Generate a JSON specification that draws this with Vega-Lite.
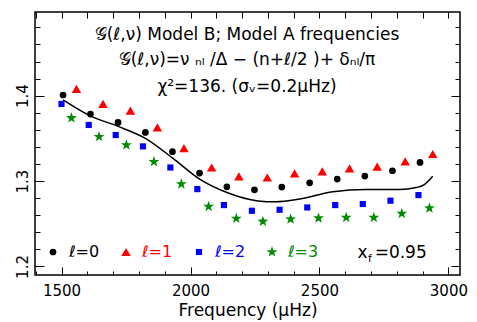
{
  "$schema": "https://vega.github.io/schema/vega-lite/v6.json",
  "width": 425,
  "height": 263,
  "autosize": {"type": "none"},
  "padding": {"left": 35, "top": 12, "right": 17, "bottom": 47},
  "background": "white",
  "config": {
    "view": {"stroke": "black", "strokeWidth": 1.5},
    "font": "DejaVu Sans",
    "axis": {"grid": false, "domain": false, "tickColor": "black", "tickWidth": 1, "labelColor": "black", "titleColor": "black", "labelFont": "DejaVu Sans", "titleFont": "DejaVu Sans", "titleFontWeight": "normal", "labelOverlap": false, "labelFlush": false, "labelBound": false}
  },
  "datasets": {
    "modes": [
      {"l": "0", "freq": 1505.8, "g": 1.4008}, {"l": "0", "freq": 1612, "g": 1.3785}, {"l": "0", "freq": 1719, "g": 1.3687}, {"l": "0", "freq": 1825, "g": 1.357}, {"l": "0", "freq": 1930, "g": 1.3344}, {"l": "0", "freq": 2035, "g": 1.3094}, {"l": "0", "freq": 2141, "g": 1.2933}, {"l": "0", "freq": 2248, "g": 1.2898}, {"l": "0", "freq": 2354, "g": 1.293}, {"l": "0", "freq": 2462, "g": 1.298}, {"l": "0", "freq": 2569, "g": 1.3023}, {"l": "0", "freq": 2676, "g": 1.3059}, {"l": "0", "freq": 2783, "g": 1.3121}, {"l": "0", "freq": 2890, "g": 1.3218},
      {"l": "1", "freq": 1557.7, "g": 1.4079}, {"l": "1", "freq": 1660.7, "g": 1.3903}, {"l": "1", "freq": 1766.9, "g": 1.3824}, {"l": "1", "freq": 1871.5, "g": 1.3628}, {"l": "1", "freq": 1974.6, "g": 1.3387}, {"l": "1", "freq": 2081.9, "g": 1.3159}, {"l": "1", "freq": 2187.7, "g": 1.3054}, {"l": "1", "freq": 2297.7, "g": 1.3042}, {"l": "1", "freq": 2403.5, "g": 1.3089}, {"l": "1", "freq": 2510.8, "g": 1.3113}, {"l": "1", "freq": 2616.6, "g": 1.3148}, {"l": "1", "freq": 2723.9, "g": 1.3168}, {"l": "1", "freq": 2832.4, "g": 1.323}, {"l": "1", "freq": 2939.3, "g": 1.3317},
      {"l": "2", "freq": 1499.6, "g": 1.3903}, {"l": "2", "freq": 1605.3, "g": 1.3657}, {"l": "2", "freq": 1710, "g": 1.3539}, {"l": "2", "freq": 1815.7, "g": 1.3406}, {"l": "2", "freq": 1921.9, "g": 1.3159}, {"l": "2", "freq": 2026.5, "g": 1.2906}, {"l": "2", "freq": 2129.6, "g": 1.2719}, {"l": "2", "freq": 2238, "g": 1.2652}, {"l": "2", "freq": 2345.4, "g": 1.2664}, {"l": "2", "freq": 2452.7, "g": 1.2691}, {"l": "2", "freq": 2561.2, "g": 1.2719}, {"l": "2", "freq": 2668.1, "g": 1.2731}, {"l": "2", "freq": 2775.4, "g": 1.277}, {"l": "2", "freq": 2883.9, "g": 1.2836},
      {"l": "3", "freq": 1538.3, "g": 1.3739}, {"l": "3", "freq": 1645.3, "g": 1.3519}, {"l": "3", "freq": 1751.4, "g": 1.3422}, {"l": "3", "freq": 1858.3, "g": 1.3226}, {"l": "3", "freq": 1964.5, "g": 1.2965}, {"l": "3", "freq": 2070.3, "g": 1.2702}, {"l": "3", "freq": 2177.6, "g": 1.2562}, {"l": "3", "freq": 2280.7, "g": 1.2527}, {"l": "3", "freq": 2388, "g": 1.2554}, {"l": "3", "freq": 2496.5, "g": 1.2566}, {"l": "3", "freq": 2603.8, "g": 1.2573}, {"l": "3", "freq": 2710.7, "g": 1.2573}, {"l": "3", "freq": 2819.2, "g": 1.262}, {"l": "3", "freq": 2926.5, "g": 1.2683}
    ],
    "curve": [
      {"freq": 1505.8, "g": 1.395}, {"freq": 1609.2, "g": 1.3766}, {"freq": 1718.9, "g": 1.3641}, {"freq": 1825, "g": 1.35}, {"freq": 1932, "g": 1.3266}, {"freq": 2035.4, "g": 1.3023}, {"freq": 2141.2, "g": 1.2866}, {"freq": 2261.3, "g": 1.2768}, {"freq": 2330, "g": 1.2757}, {"freq": 2422.9, "g": 1.2789}, {"freq": 2551.9, "g": 1.2875}, {"freq": 2681.3, "g": 1.2902}, {"freq": 2810.3, "g": 1.2902}, {"freq": 2875, "g": 1.2924}, {"freq": 2905, "g": 1.2955}, {"freq": 2939.3, "g": 1.3056}
    ]
  },
  "resolve": {"axis": {"x": "independent", "y": "independent"}},
  "layer": [
    {
      "data": {"name": "modes"},
      "mark": {"type": "point", "filled": true, "opacity": 1, "strokeWidth": 0},
      "encoding": {
        "x": {"field": "freq", "type": "quantitative", "scale": {"domain": [1397, 3045], "nice": false, "zero": false},
          "axis": {"orient": "bottom", "title": "Frequency (μHz)", "format": "d", "values": [1500, 2000, 2500, 3000], "tickSize": -8,
            "labelFontSize": 15, "titleFontSize": 17, "labelPadding": 16, "titlePadding": 4}},
        "y": {"field": "g", "type": "quantitative", "scale": {"domain": [1.19, 1.498], "nice": false, "zero": false},
          "axis": {"orient": "left", "title": null, "values": [1.2, 1.3, 1.4], "format": ".1f", "tickSize": -9,
            "labelAngle": -90, "labelAlign": "center", "labelBaseline": "bottom", "labelFontSize": 15, "labelPadding": 14}},
        "color": {"field": "l", "type": "nominal", "scale": {"domain": ["0","1","2","3"], "range": ["black", "#ff0000", "#0000ff", "#008a00"]},
          "legend": {"orient": "none", "legendX": 10, "legendY": 232, "direction": "horizontal", "columns": 4, "title": null, "padding": 0,
            "labelExpr": "'ℓ=' + datum.label", "labelFontSize": 16, "labelFont": "DejaVu Sans", "labelOffset": 8, "columnPadding": 18, "symbolSize": 55, "symbolStrokeWidth": 0,
            "labelColor": {"expr": "datum.value === '1' ? '#ff0000' : datum.value === '2' ? '#0000ff' : datum.value === '3' ? '#008a00' : 'black'"}}},
        "shape": {"field": "l", "type": "nominal", "scale": {"domain": ["0","1","2","3"], "range": ["circle", "triangle-up", "square", "M0,-1L0.235,-0.324L0.951,-0.309L0.38,0.124L0.588,0.809L0,0.4L-0.588,0.809L-0.38,0.124L-0.951,-0.309L-0.235,-0.324Z"]}},
        "size": {"field": "l", "type": "ordinal", "scale": {"type": "ordinal", "domain": ["0","1","2","3"], "range": [45, 90, 38, 130]}, "legend": null}
      }
    },
    {
      "data": {"name": "curve"},
      "mark": {"type": "line", "color": "black", "strokeWidth": 1.5, "interpolate": "monotone"},
      "encoding": {
        "x": {"field": "freq", "type": "quantitative",
          "axis": {"orient": "bottom", "title": null, "labels": false, "tickSize": -4, "values": [1400,1500,1600,1700,1800,1900,2000,2100,2200,2300,2400,2500,2600,2700,2800,2900,3000]}},
        "y": {"field": "g", "type": "quantitative",
          "axis": {"orient": "left", "title": null, "labels": false, "tickSize": -5, "values": [1.2,1.22,1.24,1.26,1.28,1.3,1.32,1.34,1.36,1.38,1.4,1.42,1.44,1.46,1.48]}}
      }
    },
    {
      "data": {"values": [{}]},
      "mark": {"type": "text", "fontSize": 17, "align": "center", "baseline": "middle", "color": "black"},
      "encoding": {
        "x": {"datum": 2219, "axis": {"orient": "top", "title": null, "labels": false, "tickSize": -6, "values": [1400,1500,1600,1700,1800,1900,2000,2100,2200,2300,2400,2500,2600,2700,2800,2900,3000]}},
        "y": {"datum": 1.471, "axis": {"orient": "right", "title": null, "labels": false, "tickSize": -9, "values": [1.2, 1.3, 1.4]}},
        "text": {"value": "𝒢(ℓ,ν) Model B;  Model A frequencies"}}
    },
    {
      "data": {"values": [{}]},
      "mark": {"type": "text", "fontSize": 17, "align": "center", "baseline": "middle", "color": "black"},
      "encoding": {
        "x": {"datum": 2219, "axis": null},
        "y": {"datum": 1.4418, "axis": {"orient": "right", "title": null, "labels": false, "tickSize": -5, "values": [1.2,1.22,1.24,1.26,1.28,1.3,1.32,1.34,1.36,1.38,1.4,1.42,1.44,1.46,1.48]}},
        "text": {"value": "𝒢(ℓ,ν)=ν ₙₗ /Δ − (n+ℓ/2 )+ δₙₗ/π"}}
    },
    {
      "data": {"values": [{}]},
      "mark": {"type": "text", "fontSize": 17, "align": "center", "baseline": "middle", "color": "black"},
      "encoding": {"x": {"datum": 2219, "axis": null}, "y": {"datum": 1.4102, "axis": null}, "text": {"value": "χ²=136. (σᵥ=0.2μHz)"}}
    },
    {
      "data": {"values": [{}]},
      "mark": {"type": "text", "fontSize": 17, "align": "left", "baseline": "middle", "color": "black"},
      "encoding": {"x": {"datum": 2648, "axis": null}, "y": {"datum": 1.2158, "axis": null}, "text": {"value": "x"}}
    },
    {
      "data": {"values": [{}]},
      "mark": {"type": "text", "fontSize": 11, "align": "left", "baseline": "middle", "color": "black"},
      "encoding": {"x": {"datum": 2688, "axis": null}, "y": {"datum": 1.2092, "axis": null}, "text": {"value": "f"}}
    },
    {
      "data": {"values": [{}]},
      "mark": {"type": "text", "fontSize": 17, "align": "left", "baseline": "middle", "color": "black"},
      "encoding": {"x": {"datum": 2714, "axis": null}, "y": {"datum": 1.2158, "axis": null}, "text": {"value": "=0.95"}}
    }
  ]
}
